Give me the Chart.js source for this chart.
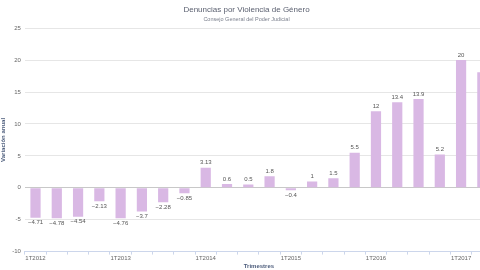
<!DOCTYPE html>
<html lang="es">
<head>
<meta charset="utf-8">
<title>Denuncias por Violencia de Género</title>
<script src="https://cdn.jsdelivr.net/npm/chart.js@4"></script>
<style>
    html, body { margin: 0; padding: 0; background: #fff; overflow: hidden; }
    #wrap { width: 496px; height: 270px; position: relative; }
</style>
</head>
<body>
<div id="wrap"><canvas id="mainChart"></canvas></div>
<script>
// ============ DATA ============

const quarters = [
    '1T2012', '2T2012', '3T2012', '4T2012',
    '1T2013', '2T2013', '3T2013', '4T2013',
    '1T2014', '2T2014', '3T2014', '4T2014',
    '1T2015', '2T2015', '3T2015', '4T2015',
    '1T2016', '2T2016', '3T2016', '4T2016',
    '1T2017', '2T2017'
];

const variacion = [
    -4.71, -4.78, -4.54, -2.13,
    -4.76, -3.7, -2.28, -0.85,
    3.13, 0.6, 0.5, 1.8,
    -0.4, 1, 1.5, 5.5,
    12, 13.4, 13.9, 5.2,
    20, 18.1
];

const yTicks = [-10, -5, 0, 5, 10, 15, 20, 25];

const FONT = "'Liberation Sans', Arial, sans-serif";

// ============ VALUE LABELS ============

// draws the number over (or under) every bar, skipping ones that would be cut off
const barLabels = {
    id: 'barLabels',
    afterDatasetsDraw(chart) {
        const ctx = chart.ctx;
        const visibleRight = Math.min(chart.chartArea.right, window.innerWidth);
        const meta = chart.getDatasetMeta(0);
        ctx.save();
        ctx.font = '6px ' + FONT;
        ctx.fillStyle = '#555';
        ctx.textAlign = 'center';
        meta.data.forEach((bar, i) => {
            const v = variacion[i];
            const txt = v < 0 ? '\u2212' + Math.abs(v) : String(v);
            const w = ctx.measureText(txt).width;
            if (bar.x + w / 2 > visibleRight) return;
            if (v >= 0) {
                ctx.textBaseline = 'bottom';
                ctx.fillText(txt, bar.x, bar.y - 2);
            } else {
                ctx.textBaseline = 'top';
                ctx.fillText(txt, bar.x, bar.y + 2);
            }
        });
        ctx.restore();
    }
};

// ============ CHART ============

const ctx = document.getElementById('mainChart').getContext('2d');

const chart = new Chart(ctx, {
    type: 'bar',
    data: {
        labels: quarters,
        datasets: [{
            label: 'Variación anual',
            data: variacion,
            backgroundColor: '#d9b8e4',
            borderWidth: 0,
            barPercentage: 0.6,
            categoryPercentage: 0.8
        }]
    },
    options: {
        responsive: true,
        maintainAspectRatio: false,
        animation: false,
        layout: { padding: { left: 0, right: 3, top: 0, bottom: 0 } },
        scales: {
            x: {
                grid: {
                    drawOnChartArea: false,
                    color: '#ccd6eb',
                    tickLength: 3
                },
                border: { display: true, color: '#ccd6eb' },
                ticks: {
                    autoSkip: false,
                    maxRotation: 0,
                    padding: 0,
                    font: { size: 6, family: FONT },
                    color: '#666',
                    callback: (val, i) => quarters[i].startsWith('1T') ? quarters[i] : ''
                },
                title: {
                    display: true,
                    text: 'Trimestres',
                    color: '#4d5d7c',
                    font: { size: 6, weight: 'bold', family: FONT },
                    padding: { top: 1, bottom: 0 }
                }
            },
            y: {
                min: -10,
                max: 25,
                afterBuildTicks: (axis) => {
                    axis.ticks = yTicks.map(v => ({ value: v }));
                },
                grid: {
                    drawTicks: false,
                    color: (c) => c.tick && c.tick.value === 0 ? '#c8c8c8' : '#e6e6e6'
                },
                border: { display: false },
                ticks: {
                    padding: 4,
                    font: { size: 6, family: FONT },
                    color: '#666'
                },
                title: {
                    display: true,
                    text: 'Variación anual',
                    color: '#4d5d7c',
                    font: { size: 6, weight: 'bold', family: FONT },
                    padding: { top: 0, bottom: 1 }
                }
            }
        },
        plugins: {
            legend: { display: false },
            tooltip: { enabled: false },
            title: {
                display: true,
                text: 'Denuncias por Violencia de Género',
                color: '#5b6070',
                font: { size: 8, weight: 'normal', family: FONT },
                padding: { top: 5, bottom: 2 }
            },
            subtitle: {
                display: true,
                text: 'Consejo General del Poder Judicial',
                color: '#7a7f8c',
                font: { size: 5.5, family: FONT },
                padding: { top: 0, bottom: 5 }
            }
        }
    },
    plugins: [barLabels]
});
</script>
</body>
</html>
